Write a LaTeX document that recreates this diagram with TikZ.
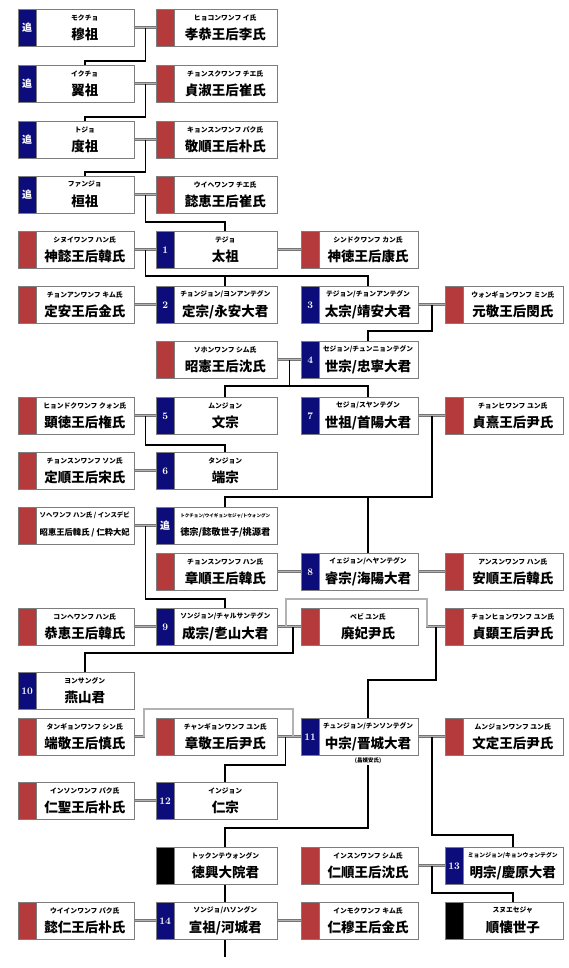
\documentclass[tikz,border=0pt]{standalone}
\usepackage{fontspec}
\usepackage{graphicx}
\newfontfamily\jp{Noto Sans CJK JP}
\usetikzlibrary{calc}
\pgfdeclarelayer{background}
\pgfsetlayers{background,main}

\definecolor{kingblue}{RGB}{12,12,122}
\definecolor{queenred}{RGB}{180,58,60}
\definecolor{boxgray}{RGB}{125,125,125}
\definecolor{wedgray}{RGB}{118,118,118}

% columns: left edge and width
\def\colxA{18}\def\colwA{116}
\def\colxB{156}\def\colwB{121}
\def\colxC{301}\def\colwC{116.5}
\def\colxD{445}\def\colwD{118}

\newsavebox\fitbox
\newcommand\fitto[2]{\sbox\fitbox{#2}\ifdim\wd\fitbox>#1\resizebox{#1}{!}{\usebox\fitbox}\else\usebox\fitbox\fi}
\newcommand\chu{{\jp\bfseries 追}}

% name, column, top, tag colour, tag text, kana, kanji
\newcommand\person[7]{%
  \pgfmathsetmacro\px{\csname colx#2\endcsname}%
  \pgfmathsetmacro\pw{\csname colw#2\endcsname}%
  \node[pbox, minimum width=\pw pt, anchor=north west] (#1) at (\px,#3) {};
  \node[ptag, fill=#4, anchor=north west] (#1-t) at (#1.north west) {#5};
  \coordinate (#1-c) at ({\px+\pw/2+8.75},#3);
  \node[kana] (#1-k) at ([yshift=-8.5pt]#1-c) {\fitto{90pt}{#6}};
  \node[kanji] (#1-n) at ([yshift=-25.5pt]#1-c) {\fitto{90pt}{#7}};
}

\begin{document}
\begin{tikzpicture}[x=1pt,y=-1pt,
  pbox/.style={draw=boxgray, fill=white, line width=0.8pt, minimum height=37pt, inner sep=0pt},
  ptag/.style={draw=boxgray, line width=0.8pt, minimum width=17.5pt, minimum height=37pt, inner sep=0pt,
    text=white, font=\bfseries\fontsize{10}{10}\selectfont},
  kana/.style={inner sep=0pt, font=\jp\bfseries\fontsize{6.8}{7}\selectfont},
  kanji/.style={inner sep=0pt, font=\jp\bfseries\fontsize{13.5}{14}\selectfont},
  note/.style={inner sep=0.5pt, font=\jp\bfseries\fontsize{5.5}{6}\selectfont},
  wed/.style={draw=wedgray, double=gray!60, line width=0.9pt, double distance=1.1pt},
  desc/.style={draw=black, line width=1.8pt}]
\useasboundingbox (0,0) rectangle (568,968);

\person{mokjo}{A}{9}{kingblue}{\chu}{モクチョ}{穆祖}
\person{hyogong}{B}{9}{queenred}{}{ヒョコンワンフ イ氏}{孝恭王后李氏}
\person{ikjo}{A}{65}{kingblue}{\chu}{イクチョ}{翼祖}
\person{jeongsuk}{B}{65}{queenred}{}{チョンスクワンフ チエ氏}{貞淑王后崔氏}
\person{dojo}{A}{121}{kingblue}{\chu}{トジョ}{度祖}
\person{gyeongsun}{B}{121}{queenred}{}{キョンスンワンフ パク氏}{敬順王后朴氏}
\person{hwanjo}{A}{176}{kingblue}{\chu}{ファンジョ}{桓祖}
\person{uihye}{B}{176}{queenred}{}{ウイヘワンフ チエ氏}{懿恵王后崔氏}
\person{sinui}{A}{231}{queenred}{}{シヌイワンフ ハン氏}{神懿王后韓氏}
\person{taejo}{B}{231}{kingblue}{1}{テジョ}{太祖}
\person{sindeok}{C}{231}{queenred}{}{シンドクワンフ カン氏}{神徳王后康氏}
\person{jeongan}{A}{286}{queenred}{}{チョンアンワンフ キム氏}{定安王后金氏}
\person{jeongjong}{B}{286}{kingblue}{2}{チョンジョン/ヨンアンテグン}{定宗/永安大君}
\person{taejong}{C}{286}{kingblue}{3}{テジョン/チョンアンテグン}{太宗/靖安大君}
\person{wongyeong}{D}{286}{queenred}{}{ウォンギョンワンフ ミン氏}{元敬王后閔氏}
\person{soheon}{B}{341}{queenred}{}{ソホンワンフ シム氏}{昭憲王后沈氏}
\person{sejong}{C}{341}{kingblue}{4}{セジョン/チュンニョンテグン}{世宗/忠寧大君}
\person{hyeondeok}{A}{397}{queenred}{}{ヒョンドクワンフ クォン氏}{顕徳王后権氏}
\person{munjong}{B}{397}{kingblue}{5}{ムンジョン}{文宗}
\person{sejo}{C}{397}{kingblue}{7}{セジョ/スヤンテグン}{世祖/首陽大君}
\person{jeonghui}{D}{397}{queenred}{}{チョンヒワンフ ユン氏}{貞熹王后尹氏}
\person{jeongsun}{A}{452}{queenred}{}{チョンスンワンフ ソン氏}{定順王后宋氏}
\person{danjong}{B}{452}{kingblue}{6}{タンジョン}{端宗}
\person{sohye}{A}{507}{queenred}{}{ソヘワンフ ハン氏 / インスデビ}{昭恵王后韓氏 / 仁粋大妃}
\person{deokjong}{B}{507}{kingblue}{\chu}{トクチョン/ウイギョンセジャ/トウォングン}{徳宗/懿敬世子/桃源君}
\person{jangsun}{B}{553}{queenred}{}{チョンスンワンフ ハン氏}{章順王后韓氏}
\person{yejong}{C}{553}{kingblue}{8}{イェジョン/ヘヤンテグン}{睿宗/海陽大君}
\person{ansun}{D}{553}{queenred}{}{アンスンワンフ ハン氏}{安順王后韓氏}
\person{gonghye}{A}{608}{queenred}{}{コンヘワンフ ハン氏}{恭恵王后韓氏}
\person{seongjong}{B}{608}{kingblue}{9}{ソンジョン/チャルサンテグン}{成宗/乽山大君}
\person{pyebi}{C}{608}{queenred}{}{ペビ ユン氏}{廃妃尹氏}
\person{jeonghyeon}{D}{608}{queenred}{}{チョンヒョンワンフ ユン氏}{貞顕王后尹氏}
\person{yeonsan}{A}{672}{kingblue}{10}{ヨンサングン}{燕山君}
\person{dangyeong}{A}{718}{queenred}{}{タンギョンワンフ シン氏}{端敬王后慎氏}
\person{janggyeong}{B}{718}{queenred}{}{チャンギョンワンフ ユン氏}{章敬王后尹氏}
\person{jungjong}{C}{718}{kingblue}{11}{チュンジョン/チンソンテグン}{中宗/晋城大君}
\person{munjeong}{D}{718}{queenred}{}{ムンジョンワンフ ユン氏}{文定王后尹氏}
\person{inseong}{A}{782}{queenred}{}{インソンワンフ パク氏}{仁聖王后朴氏}
\person{injong}{B}{782}{kingblue}{12}{インジョン}{仁宗}
\person{deokheung}{B}{847}{black}{}{トックンテウォングン}{徳興大院君}
\person{insun}{C}{847}{queenred}{}{インスンワンフ シム氏}{仁順王后沈氏}
\person{myeongjong}{D}{847}{kingblue}{13}{ミョンジョン/キョンウォンテグン}{明宗/慶原大君}
\person{uiin}{A}{902}{queenred}{}{ウイインワンフ パク氏}{懿仁王后朴氏}
\person{seonjo}{B}{902}{kingblue}{14}{ソンジョ/ハソングン}{宣祖/河城君}
\person{inmok}{C}{902}{queenred}{}{インモクワンフ キム氏}{仁穆王后金氏}
\person{sunhoe}{D}{902}{black}{}{スヌエセジャ}{順懐世子}

\node[note] (changbin) at (jungjong-c |- 0,761) {(昌嬪安氏)};

\begin{pgfonlayer}{background}
  \fill[white] (0,0) rectangle (568,968);

  % marriages
  \draw[wed] (mokjo.east) -- (hyogong.west);
  \draw[wed] (ikjo.east) -- (jeongsuk.west);
  \draw[wed] (dojo.east) -- (gyeongsun.west);
  \draw[wed] (hwanjo.east) -- (uihye.west);
  \draw[wed] (sinui.east) -- (taejo.west);
  \draw[wed] (taejo.east) -- (sindeok.west);
  \draw[wed] (jeongan.east) -- (jeongjong.west);
  \draw[wed] (taejong.east) -- (wongyeong.west);
  \draw[wed] (soheon.east) -- (sejong.west);
  \draw[wed] (hyeondeok.east) -- (munjong.west);
  \draw[wed] (sejo.east) -- (jeonghui.west);
  \draw[wed] (jeongsun.east) -- (danjong.west);
  \draw[wed] (sohye.east) -- (deokjong.west);
  \draw[wed] (jangsun.east) -- (yejong.west);
  \draw[wed] (yejong.east) -- (ansun.west);
  \draw[wed] (gonghye.east) -- (seongjong.west);
  \draw[wed] (seongjong.east) -- (pyebi.west);
  \coordinate (by1) at (286,599);
  \coordinate (by2) at (427,599);
  \draw[wed] (seongjong.east) -| (by1) -- (by2) |- (jeonghyeon.west);
  \draw[wed] (janggyeong.east) -- (jungjong.west);
  \coordinate (by3) at (144,709);
  \coordinate (by4) at (293,709);
  \draw[wed] (dangyeong.east) -| (by3) -- (by4) |- (jungjong.west);
  \draw[wed] (jungjong.east) -- (munjeong.west);
  \draw[wed] (inseong.east) -- (injong.west);
  \draw[wed] (insun.east) -- (myeongjong.west);
  \draw[wed] (uiin.east) -- (seonjo.west);
  \draw[wed] (seonjo.east) -- (inmok.west);

  % descent
  \coordinate (w0) at ($(mokjo.east)!.5!(hyogong.west)$);
  \coordinate (w1) at ($(ikjo.east)!.5!(jeongsuk.west)$);
  \coordinate (w2) at ($(dojo.east)!.5!(gyeongsun.west)$);
  \coordinate (w3) at ($(hwanjo.east)!.5!(uihye.west)$);
  \coordinate (w4) at ($(sinui.east)!.5!(taejo.west)$);
  \coordinate (w5) at ($(taejong.east)!.5!(wongyeong.west)$);
  \coordinate (w6) at ($(soheon.east)!.5!(sejong.west)$);
  \coordinate (w7a) at ($(hyeondeok.east)!.5!(munjong.west)$);
  \coordinate (w7b) at ($(sejo.east)!.5!(jeonghui.west)$);
  \coordinate (w9) at ($(sohye.east)!.5!(deokjong.west)$);
  \coordinate (w11a) at ($(seongjong.east)!.67!(pyebi.west)$);
  \coordinate (w11b) at ($(by2 |- jeonghyeon.west)!.5!(jeonghyeon.west)$);
  \coordinate (w13a) at ($(janggyeong.east)!.33!(jungjong.west)$);
  \coordinate (w13b) at ($(jungjong.east)!.5!(munjeong.west)$);
  \coordinate (w15) at ($(insun.east)!.5!(myeongjong.west)$);
  \coordinate (next) at (seonjo-c |- 0,957);

  \draw[desc] (w0) |- (ikjo-c |- 0,61) -- (ikjo-c);
  \draw[desc] (w1) |- (dojo-c |- 0,117) -- (dojo-c);
  \draw[desc] (w2) |- (hwanjo-c |- 0,172) -- (hwanjo-c);
  \draw[desc] (w3) |- (taejo-c |- 0,222) -- (taejo-c);
  \draw[desc] (w4) |- (taejong-c |- 0,276) -- (taejong-c);
  \draw[desc] (jeongjong-c |- 0,276) -- (jeongjong-c);
  \draw[desc] (w5) |- (sejong-c |- 0,331) -- (sejong-c);
  \draw[desc] (w6) |- (sejo-c |- 0,386) -- (sejo-c);
  \draw[desc] (w6 |- 0,386) -| (munjong-c);
  \draw[desc] (w7a) |- (danjong-c |- 0,445) -- (danjong-c);
  \draw[desc] (w7b) |- (deokjong-c |- 0,497) -- (deokjong-c);
  \draw[desc] (yejong-c |- 0,497) -- (yejong-c);
  \draw[desc] (w9) |- (seongjong-c |- 0,599) -- (seongjong-c);
  \draw[desc] (w11a) |- (yeonsan-c |- 0,653) -- (yeonsan-c);
  \draw[desc] (w11b) |- (jungjong-c |- 0,680) -- (jungjong-c);
  \draw[desc] (w13a) |- (injong-c |- 0,765) -- (injong-c);
  \draw[desc] (w13b) |- (myeongjong-c |- 0,835) -- (myeongjong-c);
  \draw[desc] (changbin.south) |- (deokheung-c |- 0,828) -- (deokheung-c);
  \draw[desc] (deokheung-c |- deokheung.south) -- (seonjo-c);
  \draw[desc] (w15) |- (sunhoe-c |- 0,893) -- (sunhoe-c);
  \draw[desc] (seonjo-c |- seonjo.south) -- (next);
\end{pgfonlayer}

\end{tikzpicture}
\end{document}
